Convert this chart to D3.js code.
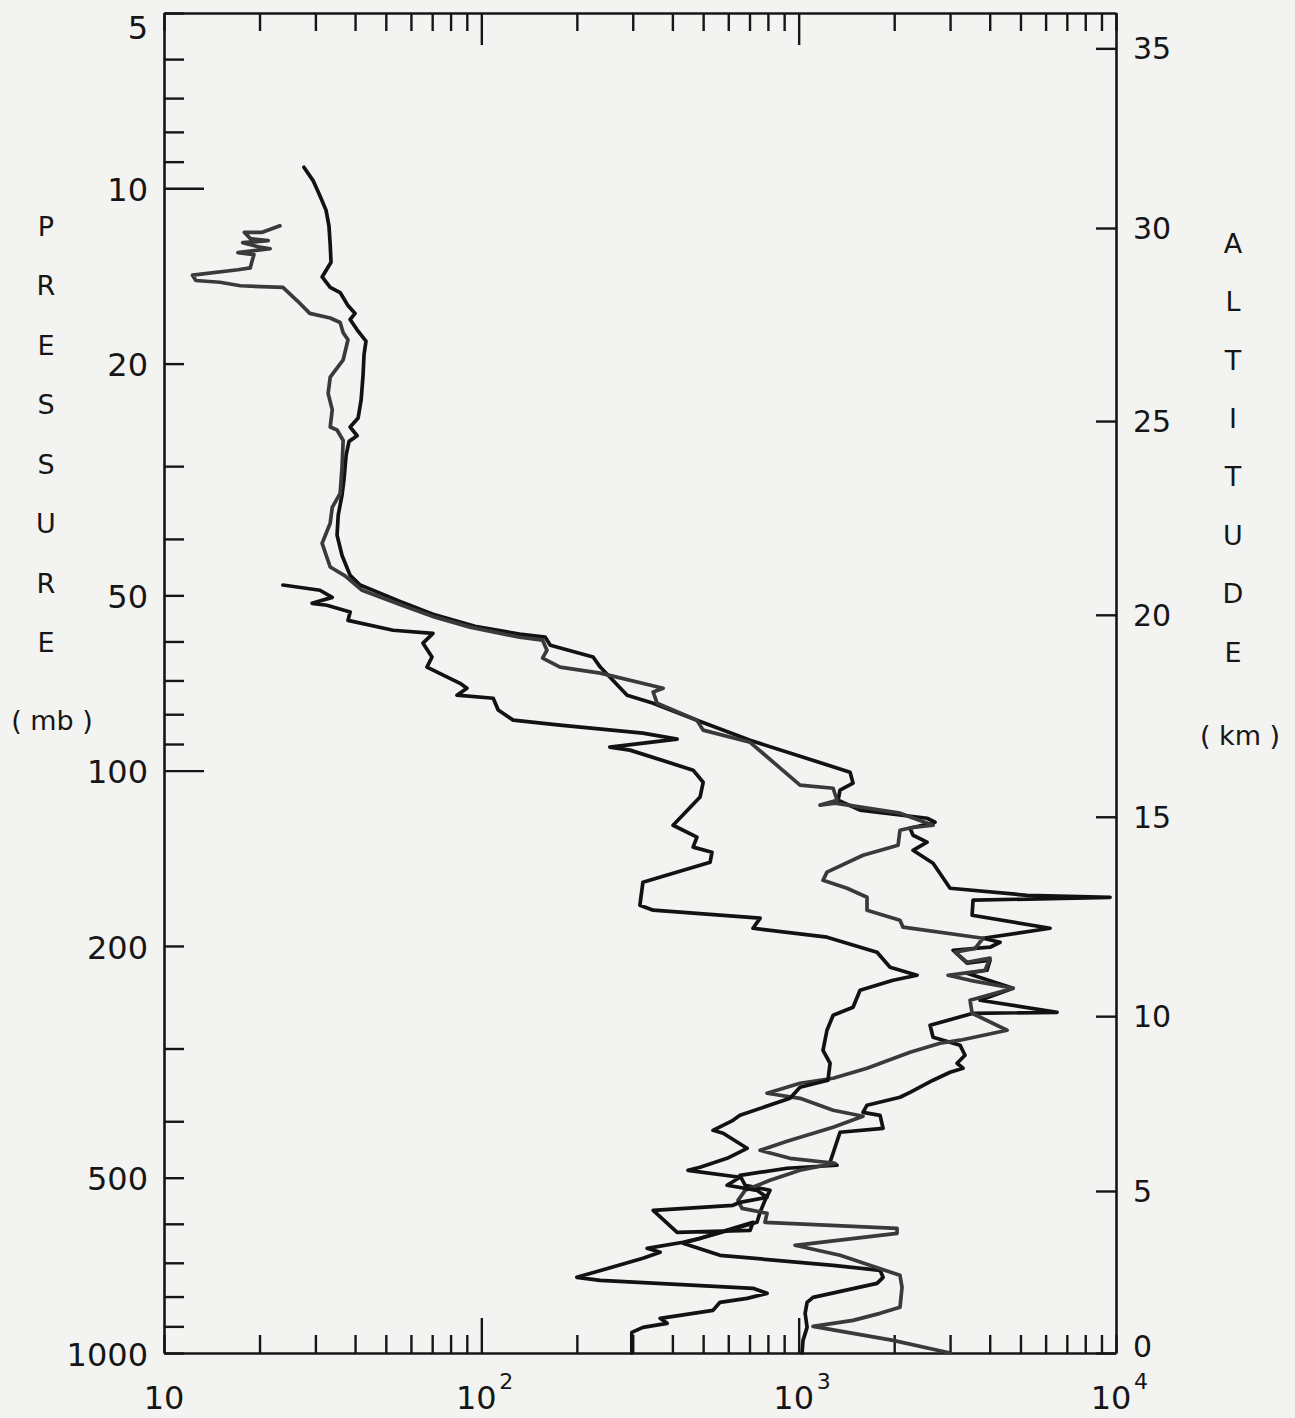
<!DOCTYPE html>
<html>
<head>
<meta charset="utf-8">
<script src="https://cdn.jsdelivr.net/npm/d3@7"></script>
<style>
  body { margin: 0; background: #f3f3f1; }
</style>
</head>
<body>
<div id="chart"></div>
<script>
const width = 1295;
const height = 1418;
const ink = "#161616";
const fontFamily = "'DejaVu Sans', 'Liberation Sans', sans-serif";

// pressure axis (mb)
const pressureTicks = [5, 6, 7, 8, 9, 10, 20, 30, 40, 50, 60, 70, 80, 90, 100, 200, 300, 400, 500, 600, 700, 800, 900, 1000];
const pressureLabels = [5, 10, 20, 50, 100, 200, 500, 1000];
const pressureMajor = [10, 100];

// altitude axis (km) and the pressure level each one sits at
const altitudeKm = [0, 5, 10, 15, 20, 25, 30, 35];
const altitudePressure = [1000, 527, 264, 120, 54, 25.1, 11.7, 5.75];

// horizontal log axis
const xTicks = [10, 20, 30, 40, 50, 60, 70, 80, 90, 100, 200, 300, 400, 500, 600, 700, 800, 900,
    1000, 2000, 3000, 4000, 5000, 6000, 7000, 8000, 9000, 10000];
const xMajor = [100, 1000];
const xLabelValues = [10, 100, 1000, 10000];
const xLabelExps = ["", "2", "3", "4"];

const leftTitle = ["P", "R", "E", "S", "S", "U", "R", "E", "( mb )"];
const rightTitle = ["A", "L", "T", "I", "T", "U", "D", "E", "( km )"];

// soundings: [pressure mb, value]
const traceA = [
    [9.2, 27.6], [9.7, 29.5], [10.3, 31.0], [10.9, 32.4], [11.6, 33.1], [12.5, 33.4], [13.4, 33.6], [14.2, 31.5],
    [14.8, 33.4], [15.1, 35.9], [15.9, 38.0], [16.4, 40.0], [16.8, 38.6], [17.5, 40.6], [18.3, 43.3], [19.3, 42.7],
    [20.9, 42.4], [23.1, 41.8], [24.8, 40.9], [25.7, 38.6], [26.6, 40.6], [27.2, 38.3], [28.7, 37.5], [31.7, 36.9],
    [33.6, 36.4], [36.4, 35.4], [39.4, 35.1], [42.7, 36.4], [46.2, 38.6], [48.0, 41.5], [51.2, 55.4], [53.9, 70.4],
    [56.5, 95.5], [58.3, 132], [59.0, 159], [60.9, 165], [63.8, 225], [66.4, 237], [74.2, 288], [76.6, 348],
    [81.9, 478], [88.7, 703], [100.6, 1452], [105.1, 1484], [108.0, 1350], [112.4, 1331], [116.9, 1561],
    [120.7, 2539], [122.6, 2690], [125.6, 2244], [129.1, 2293], [132.7, 2539], [137.0, 2293], [144.2, 2652],
    [159.2, 3000], [163.7, 5245], [165.0, 9580], [166.9, 3545], [177.1, 3520], [186.5, 6198], [194.0, 3811],
    [197.1, 4312], [201.0, 4010], [203.4, 3066], [214.1, 3393], [211.6, 4010], [220.2, 3923], [222.8, 3393],
    [236.4, 4738], [247.9, 3729], [260.0, 6521], [261.0, 3545], [273.6, 2595], [286.9, 2652], [296.1, 3225],
    [308.1, 3344], [318.0, 3156], [324.4, 3296], [329.6, 3000], [340.1, 2652], [356.7, 2244], [363.8, 2086],
    [375.4, 1642], [386.1, 1595], [390.7, 1805], [411.3, 1845], [417.8, 1350], [470.4, 1256], [476.0, 1321],
    [481.7, 919], [495.3, 653], [515.2, 678], [525.6, 812], [546.8, 783], [573.3, 756], [596.4, 739],
    [648.1, 432], [679.6, 565], [707.0, 1284], [721.2, 1805], [741.4, 1845], [759.2, 1766], [802.5, 1110],
    [818.4, 1063], [854.9, 1048], [903.5, 1063], [951.3, 1032], [1000, 1025]
];

const traceB = [
    [11.6, 23.2], [11.9, 20.4], [11.9, 17.9], [12.2, 18.7], [12.3, 21.3], [12.4, 17.7], [12.6, 19.8], [12.7, 21.6],
    [12.9, 17.1], [13.0, 19.2], [13.4, 18.9], [13.7, 18.7], [13.8, 17.1], [14.1, 12.3], [14.4, 12.6], [14.5, 15.0],
    [14.7, 17.4], [14.8, 23.7], [15.6, 26.3], [16.4, 28.8], [16.7, 33.4], [17.0, 35.9], [17.7, 36.7], [18.2, 38.0],
    [19.7, 36.7], [21.1, 33.4], [22.5, 32.9], [24.0, 33.9], [25.7, 33.4], [26.0, 35.1], [27.1, 36.7], [30.1, 36.4],
    [33.4, 35.9], [35.3, 33.9], [37.6, 33.4], [40.7, 31.5], [44.7, 33.4], [46.3, 37.2], [49.0, 42.1], [52.0, 56.2],
    [54.5, 71.5], [56.7, 92.1], [59.0, 132], [59.7, 156], [62.1, 161], [64.1, 156], [66.4, 177], [68.0, 237],
    [72.2, 374], [73.3, 348], [76.6, 358], [81.9, 478], [85.2, 500], [89.4, 703], [105.9, 1010], [107.2, 1284],
    [112.4, 1321], [114.6, 1168], [113.7, 1302], [118.3, 2086], [124.1, 2652], [125.1, 2293], [126.6, 2086],
    [134.3, 2057], [139.7, 1595], [149.4, 1228], [154.3, 1193], [159.2, 1421], [165.0, 1642], [173.6, 1642],
    [180.6, 2086], [185.7, 2132], [194.0, 3811], [201.9, 3597], [205.0, 3110], [213.3, 3393], [209.9, 4010],
    [220.2, 3867], [224.6, 2957], [229.1, 3468], [236.4, 4738], [247.9, 3468], [261.0, 3520], [279.1, 4537],
    [290.3, 3225], [293.8, 2790], [304.5, 2244], [324.4, 1642], [337.5, 1284], [344.2, 1010], [358.1, 795],
    [365.3, 1010], [383.0, 1284], [392.2, 1595], [409.6, 1284], [433.0, 919], [448.7, 756], [463.1, 939],
    [472.3, 1302], [485.6, 1010], [505.2, 812], [525.6, 678], [546.8, 644], [564.4, 663], [575.6, 795],
    [596.4, 783], [610.8, 2042], [623.0, 2042], [653.2, 974], [679.6, 1350], [735.6, 2086], [771.3, 2117],
    [834.8, 2086], [854.9, 1805], [878.9, 1484], [900.0, 1110], [951.3, 1984], [1000, 3000]
];

const traceC = [
    [48.0, 23.7], [49.0, 31.0], [50.4, 33.9], [51.6, 29.3], [52.0, 32.6], [53.4, 38.6], [55.2, 38.0], [57.4, 52.7],
    [58.1, 70.4], [60.4, 65.5], [63.8, 69.9], [66.4, 67.4], [70.8, 85.7], [72.2, 90.1], [74.2, 83.8], [75.1, 109],
    [78.7, 113], [81.9, 126], [83.5, 177], [86.2, 323], [88.3, 414], [91.1, 254], [92.2, 294], [99.8, 465],
    [104.7, 500], [111.0, 489], [124.1, 402], [130.1, 478], [135.3, 465], [138.1, 533], [143.6, 526], [155.5, 323],
    [170.2, 316], [173.6, 348], [179.2, 756], [186.5, 718], [193.2, 1228], [205.0, 1766], [217.5, 1941],
    [224.6, 2361], [229.1, 1984], [238.3, 1561], [254.8, 1484], [263.1, 1284], [279.1, 1228], [302.1, 1193],
    [318.0, 1256], [340.1, 1237], [349.7, 1010], [365.3, 939], [390.7, 653], [398.5, 621], [414.6, 537],
    [419.5, 578], [445.1, 688], [463.1, 595], [479.8, 489], [485.6, 448], [499.2, 653], [515.2, 595],
    [525.6, 739], [540.3, 795], [551.1, 653], [557.7, 621], [568.8, 348], [620.5, 414], [615.7, 703],
    [596.4, 718], [635.5, 489], [645.5, 432], [661.1, 333], [671.6, 366], [687.8, 323], [741.4, 200],
    [750.3, 237], [774.4, 718], [789.9, 795], [805.7, 688], [818.4, 565], [844.8, 537], [872.0, 366],
    [889.4, 385], [903.5, 323], [921.6, 298], [1000, 298]
];

const svg = d3.select("#chart")
    .append("svg")
    .attr("width", width)
    .attr("height", height)
    .style("background", "#f3f3f1");

const x = d3.scaleLog().domain([10, 10000]).range([164, 1116]);
const y = d3.scaleLog().domain([5, 1000]).range([13, 1353]);

function styleAxis(g, size) {
    g.attr("font-family", fontFamily).attr("font-size", size);
    g.select(".domain").attr("stroke", ink).attr("stroke-width", 2.6);
    g.selectAll(".tick line").attr("stroke", ink).attr("stroke-width", 2.4);
    g.selectAll(".tick text").attr("fill", ink);
}

// left: pressure
const gLeft = svg.append("g")
    .attr("transform", "translate(164,0)")
    .call(d3.axisLeft(y)
        .tickValues(pressureTicks)
        .tickSizeInner(-20)
        .tickSizeOuter(0)
        .tickPadding(16)
        .tickFormat(d => pressureLabels.includes(d) ? d : ""));
styleAxis(gLeft, 32);
gLeft.selectAll(".tick line").attr("x2", d => pressureMajor.includes(d) ? 40 : 20);
gLeft.selectAll(".tick text").attr("y", d => d === 5 ? 15 : 2);

// right: altitude
const gRight = svg.append("g")
    .attr("transform", "translate(1116,0)")
    .call(d3.axisRight(y)
        .tickValues(altitudePressure)
        .tickSizeInner(-20)
        .tickSizeOuter(0)
        .tickPadding(17)
        .tickFormat((d, i) => altitudeKm[i]));
styleAxis(gRight, 30);
gRight.selectAll(".tick text").attr("y", (d, i) => i === 0 ? -6 : 1);

// bottom
const gBottom = svg.append("g")
    .attr("transform", "translate(0,1353)")
    .call(d3.axisBottom(x).tickValues(xTicks).tickSizeInner(-18).tickSizeOuter(0).tickFormat(""));
styleAxis(gBottom, 32);
gBottom.selectAll(".tick line").attr("y2", d => xMajor.includes(d) ? -35 : -18);

// top
const gTop = svg.append("g")
    .attr("transform", "translate(0,13)")
    .call(d3.axisTop(x).tickValues(xTicks).tickSizeInner(-18).tickSizeOuter(0).tickFormat(""));
styleAxis(gTop, 32);
gTop.selectAll(".tick line").attr("y2", d => xMajor.includes(d) ? 32 : 18);

// bottom labels 10, 10^2 ...
const xLab = svg.append("g")
    .attr("font-family", fontFamily)
    .attr("fill", ink);

xLab.selectAll("text.base")
    .data(xLabelValues)
    .join("text")
    .attr("class", "base")
    .attr("x", (d, i) => x(d) - (xLabelExps[i] ? 5 : 0))
    .attr("y", 1409)
    .attr("font-size", 32)
    .attr("text-anchor", "middle")
    .text("10");

xLab.selectAll("text.exp")
    .data(xLabelValues.filter((d, i) => xLabelExps[i]))
    .join("text")
    .attr("class", "exp")
    .attr("x", d => x(d) + 18)
    .attr("y", 1389)
    .attr("font-size", 22)
    .text(d => xLabelExps[xLabelValues.indexOf(d)]);

// vertical titles
svg.append("g")
    .attr("font-family", fontFamily)
    .attr("font-size", 27)
    .attr("fill", ink)
    .attr("text-anchor", "middle")
    .selectAll("text")
    .data(leftTitle)
    .join("text")
    .attr("x", (d, i) => i === 8 ? 52 : 46)
    .attr("y", (d, i) => 226 + i * 59.5 + (i === 8 ? 18 : 0))
    .attr("dy", "0.36em")
    .text(d => d);

svg.append("g")
    .attr("font-family", fontFamily)
    .attr("font-size", 27)
    .attr("fill", ink)
    .attr("text-anchor", "middle")
    .selectAll("text")
    .data(rightTitle)
    .join("text")
    .attr("x", (d, i) => i === 8 ? 1240 : 1233)
    .attr("y", (d, i) => 243 + i * 58.4 + (i === 8 ? 25 : 0))
    .attr("dy", "0.36em")
    .text(d => d);

// the three soundings
const line = d3.line()
    .x(d => x(d[1]))
    .y(d => y(d[0]));

const traces = [
    { data: traceA, color: "#121212" },
    { data: traceB, color: "#3a3a3a" },
    { data: traceC, color: "#121212" }
];

svg.append("g")
    .selectAll("path")
    .data(traces)
    .join("path")
    .attr("d", d => line(d.data))
    .attr("fill", "none")
    .attr("stroke", d => d.color)
    .attr("stroke-width", 3.7)
    .attr("stroke-linejoin", "round")
    .attr("stroke-linecap", "round");
</script>
</body>
</html>
